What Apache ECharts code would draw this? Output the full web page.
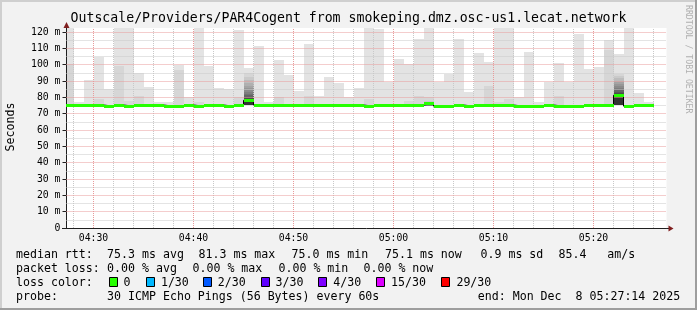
<!DOCTYPE html>
<html>
<head>
<meta charset="utf-8">
<script src="https://cdn.jsdelivr.net/npm/echarts@6.0.0/dist/echarts.min.js"></script>
<style>
html,body{margin:0;padding:0;background:#f2f2f2;overflow:hidden}
#chart{width:697px;height:310px}
</style>
</head>
<body>
<div id="chart"></div>
<script>
// ---------------- data ----------------
const binStart = ['04:27','04:28','04:29','04:30','04:31','04:32','04:33','04:34','04:35','04:36',
  '04:37','04:38','04:39','04:40','04:41','04:42','04:43','04:44','04:45','04:46',
  '04:47','04:48','04:49','04:50','04:51','04:52','04:53','04:54','04:55','04:56',
  '04:57','04:58','04:59','05:00','05:01','05:02','05:03','05:04','05:05','05:06',
  '05:07','05:08','05:09','05:10','05:11','05:12','05:13','05:14','05:15','05:16',
  '05:17','05:18','05:19','05:20','05:21','05:22','05:23','05:24','05:25'];

// median rtt per minute (ms)
const medianRtt = [75.3,75.3,75.3,75.3,74.6,75.3,74.6,75.3,75.3,75.3,
  74.6,74.6,75.3,74.6,75.3,75.3,74.6,75.3,78.2,75.3,
  75.3,75.3,75.3,75.3,75.3,75.3,75.3,75.3,75.3,75.3,
  74.6,75.3,75.3,75.3,75.3,75.3,76.2,74.6,74.6,75.3,
  74.6,75.3,75.3,75.3,75.3,74.6,74.6,74.6,75.3,74.6,
  74.6,74.6,75.3,75.3,75.3,81.3,74.6,75.3,75.1];

// lowest ping per minute (ms)
const smokeLo = [74.9,74.9,74.9,74.9,74.9,74.9,74.9,74.9,74.9,74.9,
  74.9,74.9,74.9,74.9,74.9,74.9,74.9,74.9,75.2,74.9,
  74.9,74.9,74.9,74.9,74.9,74.9,74.9,74.9,74.9,74.9,
  74.9,74.9,74.9,74.9,74.9,74.9,74.9,74.9,74.9,74.9,
  74.9,74.9,74.9,74.9,74.9,74.9,74.9,74.9,74.9,74.9,
  74.9,74.9,74.9,74.9,74.9,75.2,74.9,74.9,74.9];

// highest pings per minute, descending (top of smoke layer 1, 2, ...)
const smokeTops = [
  [130,100.5],[77.1],[90.4],[104.9,79],[85.1],[130,99.4],[130,77.5],[95.1,81],[86.3],[77],
  [77],[100,97],[80],[130,77],[99.4],[85.7],[85],[121.2,80],
  [97.8,94.7,92.5,90.5,88.8,87.2,85.8,84.5,83.3,82.2,81.2,80.3,79.5,78.8,78.4],
  [111.4],
  [77],[102.9,80],[93.7],[83.9],[112.7,81],[80.6],[92.4],[88.8],[80],[85.5],
  [130,79],[121.6],[89.6],[103.5],[100.4,78],[115.7,81],[130,80,78],[89.6],[94.3],[115.7],
  [83.3],[107.1],[101.6,87],[130,77],[130,79],[80],[107.8],[77],[89.4],[101,81],
  [89.4],[118.8],[97.3],[98.6],[115.1,109],
  [106.8,94.5,93,91.6,90.3,89.1,88,87,86,85.1,84.3,83.5,82.8,82.2,81.7],
  [130],[82.7],[77]
];

// lost pings per minute (of 30)
const lossCount = [0,0,0,0,0,0,0,0,0,0, 0,0,0,0,0,0,0,0,0,0,
  0,0,0,0,0,0,0,0,0,0, 0,0,0,0,0,0,0,0,0,0,
  0,0,0,0,0,0,0,0,0,0, 0,0,0,0,0,0,0,0,0];

const lossLevels = [0, 1, 2, 3, 4, 15, 29];
const lossLabels = ['0', '1/30', '2/30', '3/30', '4/30', '15/30', '29/30'];
const lossColors = ['#26ff00', '#00b8ff', '#0059ff', '#5e00ff', '#7e00ff', '#dd00ff', '#ff0000'];

const xRange = ['04:27:18', '05:27:18'];
const xMajorTicks = ['04:30','04:40','04:50','05:00','05:10','05:20'];
const xMinorTicks = ['04:28','04:32','04:34','04:36','04:38','04:42','04:44','04:46','04:48',
  '04:52','04:54','04:56','04:58','05:02','05:04','05:06','05:08','05:12','05:14','05:16','05:18',
  '05:22','05:24','05:26'];
const yMax = 122.45;
const yMajorTicks = [10,20,30,40,50,60,70,80,90,100,110,120];
const yMinorTicks = [5,15,25,35,45,55,65,75,85,95,105,115];
const yLabelTicks = [0,10,20,30,40,50,60,70,80,90,100,110,120];

const summaryRows = [
  ['median rtt:', '75.3 ms avg', '81.3 ms max', '75.0 ms min', '75.1 ms now', '0.9 ms sd', '85.4   am/s'],
  ['packet loss:', '0.00 % avg', '0.00 % max', '0.00 % min', '0.00 % now']
];
const probeText = '30 ICMP Echo Pings (56 Bytes) every 60s';
const endText = 'end: Mon Dec  8 05:27:14 2025';
const titleText = 'Outscale/Providers/PAR4Cogent from smokeping.dmz.osc-us1.lecat.network';

// ---------------- helpers / styles ----------------
function toMin(s) {
  const p = s.split(':').map(Number);
  return p[0] * 60 + p[1] + (p[2] || 0) / 60;
}
function fmtMin(v) {
  const h = Math.floor(v / 60), m = Math.round(v - h * 60);
  return String(h).padStart(2, '0') + ':' + String(m).padStart(2, '0');
}
const layerGray = ['#e3e3e3','#d6d6d6','#cacaca','#bdbdbd','#b0b0b0','#a4a4a4','#979797','#8a8a8a',
  '#7e7e7e','#717171','#646464','#585858','#4b4b4b','#3e3e3e','#323232'];
const MONO = 'DejaVu Sans Mono';
const minorStyle = { color: '#c8c8c8', width: 1, type: [1, 1] };
const majorStyle = { color: '#e89a9a', width: 1, type: [1, 1] };

const xMin = toMin(xRange[0]), xMax = toMin(xRange[1]);
const GL = 66.5, GT = 28, GW = 600, GH = 200;

const gridLines = []
  .concat(xMinorTicks.map(t => ({ xAxis: toMin(t), lineStyle: minorStyle })))
  .concat(yMinorTicks.map(v => ({ yAxis: v, lineStyle: minorStyle })))
  .concat(xMajorTicks.map(t => ({ xAxis: toMin(t), lineStyle: majorStyle })))
  .concat(yMajorTicks.map(v => ({ yAxis: v, lineStyle: majorStyle })));

const smokeData = binStart.map((s, i) => [toMin(s), toMin(s) + 1, smokeLo[i], Math.max.apply(null, smokeTops[i]), i]);
const medData = binStart.map((s, i) => [toMin(s), toMin(s) + 1, medianRtt[i], medianRtt[i], i]);
const stepData = binStart.map((s, i) => [toMin(s), medianRtt[i]]);
stepData.push([toMin(binStart[binStart.length - 1]) + 1, medianRtt[medianRtt.length - 1]]);

function lossColor(n) {
  let c = lossColors[0];
  for (let k = 0; k < lossLevels.length; k++) if (n >= lossLevels[k]) c = lossColors[k];
  return c;
}

function txt(x, y, s, size, extra) {
  return Object.assign({
    type: 'text', x: x, y: y, silent: true, z: 50,
    style: {
      text: s, fill: '#000', font: size + 'px "' + MONO + '"',
      align: 'left', textAlign: 'left', verticalAlign: 'middle', textVerticalAlign: 'middle'
    }
  }, extra || {});
}

const graphics = [
  // 3D frame
  { type: 'rect', shape: { x: 0, y: 0, width: 697, height: 2 }, style: { fill: '#cfcfcf' }, silent: true, z: 40 },
  { type: 'rect', shape: { x: 0, y: 0, width: 2, height: 310 }, style: { fill: '#cfcfcf' }, silent: true, z: 40 },
  { type: 'rect', shape: { x: 0, y: 308, width: 697, height: 2 }, style: { fill: '#9e9e9e' }, silent: true, z: 41 },
  { type: 'rect', shape: { x: 695, y: 0, width: 2, height: 310 }, style: { fill: '#9e9e9e' }, silent: true, z: 41 },
  // axis extensions and arrows
  { type: 'line', shape: { x1: 62, y1: GT + GH + 0.5, x2: GL, y2: GT + GH + 0.5 }, style: { stroke: '#1f1f1f', lineWidth: 1 }, silent: true, z: 45 },
  { type: 'line', shape: { x1: GL + GW, y1: GT + GH + 0.5, x2: GL + GW + 3, y2: GT + GH + 0.5 }, style: { stroke: '#1f1f1f', lineWidth: 1 }, silent: true, z: 45 },
  { type: 'polygon', shape: { points: [[GL + GW + 2, GT + GH - 2.5], [GL + GW + 2, GT + GH + 3.5], [GL + GW + 7, GT + GH + 0.5]] }, style: { fill: '#801f1f' }, silent: true, z: 46 },
  { type: 'polygon', shape: { points: [[GL - 3, GT], [GL + 3, GT], [GL, GT - 6]] }, style: { fill: '#801f1f' }, silent: true, z: 46 },
  // title
  txt(348.5, 19, titleText, 13.2, {}),
  // y axis name
  txt(11, 127, 'Seconds', 11.6, { rotation: Math.PI / 2 }),
  // watermark
  txt(688, 5, 'RRDTOOL / TOBI OETIKER', 8.2, {})
];
graphics[8].style.align = 'center'; graphics[8].style.textAlign = 'center';
graphics[9].style.align = 'center'; graphics[9].style.textAlign = 'center';
graphics[10].rotation = -Math.PI / 2;
graphics[10].style.fill = '#b0b0b0';

// summary text rows
const row1X = [16, 107.1, 198.5, 291.5, 385, 480.5, 558.5];
const row2X = [16, 107.1, 192.5, 278.5, 363.5];
summaryRows[0].forEach((s, k) => graphics.push(txt(row1X[k], 254.5, s, 11.6)));
summaryRows[1].forEach((s, k) => graphics.push(txt(row2X[k], 268.5, s, 11.6)));
graphics.push(txt(16, 282.5, 'loss color:', 11.6));
const lossTextX = [123.6, 160.9, 217.8, 275.6, 333.3, 391.1, 456.4];
lossLabels.forEach((s, k) => {
  const bx = Math.round(lossTextX[k] - 15) + 0.5;
  graphics.push({ type: 'rect', shape: { x: bx, y: 277.5, width: 8, height: 9 },
    style: { fill: lossColors[k], stroke: '#000', lineWidth: 1 }, silent: true, z: 50 });
  graphics.push(txt(lossTextX[k], 282.5, s, 11.6));
});
graphics.push(txt(16, 296.5, 'probe:', 11.6));
graphics.push(txt(107.1, 296.5, probeText, 11.6));
graphics.push(txt(477.8, 296.5, endText, 11.6));

// ---------------- chart ----------------
const chart = echarts.init(document.getElementById('chart'), null, { renderer: 'canvas', width: 697, height: 310 });
chart.setOption({
  animation: false,
  backgroundColor: '#f2f2f2',
  grid: { left: GL, top: GT, width: GW, height: GH, show: true, backgroundColor: '#ffffff', borderWidth: 0, containLabel: false },
  xAxis: {
    type: 'value', min: xMin, max: xMax, z: 3,
    axisLine: { show: true, onZero: false, lineStyle: { color: '#1f1f1f', width: 1 } },
    axisTick: { show: false },
    splitLine: { show: false },
    axisLabel: {
      customValues: xMajorTicks.map(toMin), formatter: v => fmtMin(v),
      fontFamily: MONO, fontSize: 9.8, color: '#000', margin: 5
    }
  },
  yAxis: {
    type: 'value', min: 0, max: yMax, z: 3,
    axisLine: { show: true, onZero: false, lineStyle: { color: '#1f1f1f', width: 1 } },
    axisTick: { show: true, length: 4, customValues: yLabelTicks, lineStyle: { color: '#1f1f1f' } },
    splitLine: { show: false },
    axisLabel: {
      customValues: yLabelTicks, formatter: v => (v === 0 ? '0' : v + ' m'),
      fontFamily: MONO, fontSize: 9.8, color: '#000', margin: 6
    }
  },
  series: [
    {
      name: 'smoke', type: 'custom', z: 1, clip: true, silent: true,
      encode: { x: [0, 1], y: [2, 3] },
      data: smokeData,
      renderItem: function (params, api) {
        const i = api.value(4);
        const xa = Math.round(api.coord([api.value(0), 0])[0]);
        const xb = Math.round(api.coord([api.value(1), 0])[0]);
        const yLo = Math.round(api.coord([xMin, smokeLo[i]])[1]);
        const tops = smokeTops[i];
        const children = [];
        for (let L = 0; L < layerGray.length; L++) {
          const t = L < tops.length ? tops[L] : medianRtt[i];
          const yT = Math.round(api.coord([xMin, t])[1]);
          if (yLo - yT <= 0) continue;
          children.push({ type: 'rect', shape: { x: xa, y: yT, width: xb - xa, height: yLo - yT }, style: { fill: layerGray[L] } });
        }
        return { type: 'group', children: children };
      }
    },
    {
      name: 'grid', type: 'line', data: [], z: 2, silent: true, symbol: 'none',
      markLine: {
        silent: true, symbol: ['none', 'none'], label: { show: false },
        emphasis: { disabled: true }, animation: false, data: gridLines
      }
    },
    {
      name: 'medianStep', type: 'line', step: 'end', data: stepData, z: 10, silent: true,
      symbol: 'none', showSymbol: false, clip: true,
      lineStyle: { color: '#000000', width: 1 }
    },
    {
      name: 'median', type: 'custom', z: 11, clip: true, silent: true,
      encode: { x: [0, 1], y: [2, 3] },
      data: medData,
      renderItem: function (params, api) {
        const i = api.value(4);
        const xa = Math.round(api.coord([api.value(0), 0])[0]);
        const xb = Math.round(api.coord([api.value(1), 0])[0]);
        const yc = api.coord([xMin, medianRtt[i]])[1];
        const y0 = Math.round(yc - 1.5), y1 = Math.round(yc + 1.5);
        return { type: 'rect', shape: { x: xa, y: y0, width: xb - xa, height: y1 - y0 }, style: { fill: lossColor(lossCount[i]) } };
      }
    }
  ],
  graphic: { elements: graphics }
});
</script>
</body>
</html>
